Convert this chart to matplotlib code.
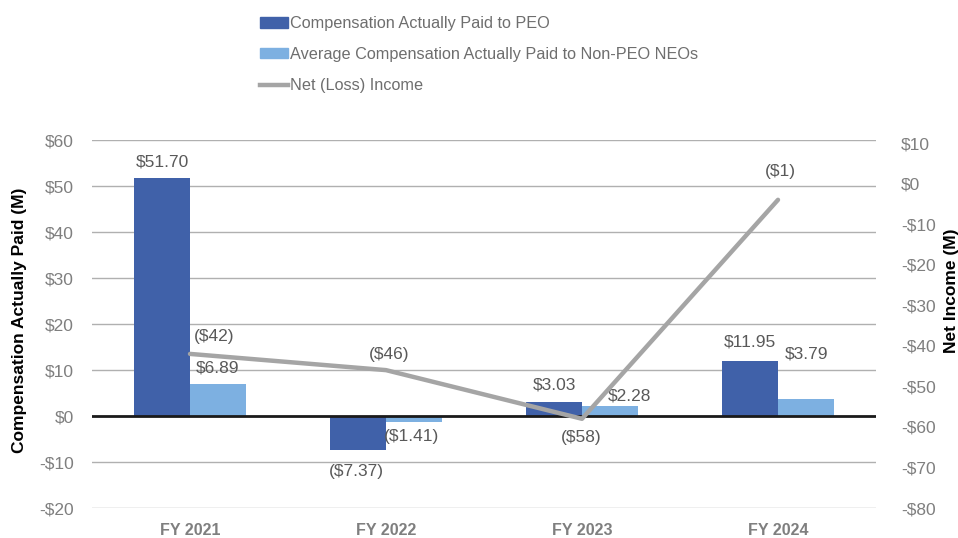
# Pay vs. performance chart: compensation actually paid and net (loss) income

import matplotlib.pyplot as plt
from matplotlib.patches import Patch
from matplotlib.lines import Line2D
import numpy as np

plt.rcParams['font.family'] = ['Liberation Sans', 'DejaVu Sans']

# Data
YEARS = ['FY 2021', 'FY 2022', 'FY 2023', 'FY 2024']
PEO_CAP = [51.70, -7.37, 3.03, 11.95]
NEO_CAP = [6.89, -1.41, 2.28, 3.79]
# line position as drawn in the picture (last point sits near -4 on the axis)
NET_INCOME = [-42, -46, -58, -4]
NET_INCOME_LABELS = ['($42)', '($46)', '($58)', '($1)']

LEFT_TICKS = [-20, -10, 0, 10, 20, 30, 40, 50, 60]
RIGHT_TICKS = [-80, -70, -60, -50, -40, -30, -20, -10, 0, 10]

# Styling
PEO_COLOR = '#4061A9'
NEO_COLOR = '#7DB0E1'
LINE_COLOR = '#A5A5A5'
TICK_COLOR = '#7F7F7F'
LABEL_COLOR = '#595959'
GRID_COLOR = '#B0B0B0'

# label offsets in pixels (dx, dy) from bar end / line point
PEO_OFFSETS = [(0, 16), (-2, -22), (0, 17), (0, 19)]
NEO_OFFSETS = [(0, 16), (-2, -14), (20, 10), (1, 45)]
LINE_OFFSETS = [(24, 17), (3, 16), (-1, -19), (2, 28)]


def money(v):
    if v < 0:
        return f'(${abs(v):.2f})'
    return f'${v:.2f}'


def axis_money(v):
    if v < 0:
        return f'-${abs(v):.0f}'
    return f'${v:.0f}'


fig = plt.figure(figsize=(9.58, 5.38), dpi=100)
ax = fig.add_axes([92 / 958, 1 - 508 / 538, (876 - 92) / 958, (508 - 140) / 538])
ax2 = ax.twinx()

x = np.arange(len(YEARS))
width = 0.285

ax.bar(x - width / 2, PEO_CAP, width, color=PEO_COLOR, zorder=2)
ax.bar(x + width / 2, NEO_CAP, width, color=NEO_COLOR, zorder=2)

for i in range(len(YEARS)):
    ax.annotate(money(PEO_CAP[i]), (x[i] - width / 2, PEO_CAP[i]),
                xytext=PEO_OFFSETS[i], textcoords='offset pixels',
                ha='center', va='center', fontsize=12.5, color=LABEL_COLOR)
    ax.annotate(money(NEO_CAP[i]), (x[i] + width / 2, NEO_CAP[i]),
                xytext=NEO_OFFSETS[i], textcoords='offset pixels',
                ha='center', va='center', fontsize=12.5, color=LABEL_COLOR)

# Left axis
ax.set_xlim(-0.5, len(YEARS) - 0.5)
ax.set_ylim(-20, 60)
ax.set_yticks(LEFT_TICKS)
ax.set_yticklabels([axis_money(v) for v in LEFT_TICKS])
for v in LEFT_TICKS:
    if v == 0:
        ax.axhline(v, color='#1A1A1A', linewidth=2, zorder=3)
    else:
        ax.axhline(v, color=GRID_COLOR, linewidth=1, zorder=1)
ax.set_xticks(x)
ax.set_xticklabels(YEARS, fontweight='bold', color=TICK_COLOR, fontsize=11.5)
ax.tick_params(axis='both', length=0)
ax.tick_params(axis='y', colors=TICK_COLOR, labelsize=12.5, pad=13)
ax.tick_params(axis='x', pad=11)
ax.set_ylabel('Compensation Actually Paid (M)', fontsize=12.5,
              fontweight='bold', color='black')
ax.yaxis.set_label_coords(-0.0825, 0.51)
for side in ax.spines.values():
    side.set_visible(False)

# Right axis
ax2.plot(x, NET_INCOME, color=LINE_COLOR, linewidth=3.2, zorder=4,
         solid_capstyle='round')
for i in range(len(YEARS)):
    ax2.annotate(NET_INCOME_LABELS[i], (x[i], NET_INCOME[i]),
                 xytext=LINE_OFFSETS[i], textcoords='offset pixels',
                 ha='center', va='center', fontsize=12.5, color=LABEL_COLOR)
ax2.set_ylim(-80, 10.75)
ax2.set_yticks(RIGHT_TICKS)
ax2.set_yticklabels([axis_money(v) for v in RIGHT_TICKS])
ax2.tick_params(axis='y', length=0, colors=TICK_COLOR, labelsize=12.5, pad=18)
ax2.set_ylabel('Net Income (M)', fontsize=12.5, fontweight='bold',
               color='black', rotation=90)
ax2.yaxis.set_label_coords(1.087, 0.59)
for side in ax2.spines.values():
    side.set_visible(False)

# Legend
handles = [
    Patch(color=PEO_COLOR),
    Patch(color=NEO_COLOR),
    Line2D([0], [0], color=LINE_COLOR, linewidth=3.2),
]
labels = ['Compensation Actually Paid to PEO',
          'Average Compensation Actually Paid to Non-PEO NEOs',
          'Net (Loss) Income']
leg = fig.legend(handles, labels, loc='upper left', bbox_to_anchor=(0.271, 0.970),
                 frameon=False, fontsize=11.7, borderpad=0, borderaxespad=0,
                 handlelength=1.75, handleheight=0.6, handletextpad=0.15,
                 labelspacing=0.98)
for t in leg.get_texts():
    t.set_color('#6E6E6E')

fig.savefig('out.png', dpi=100)
